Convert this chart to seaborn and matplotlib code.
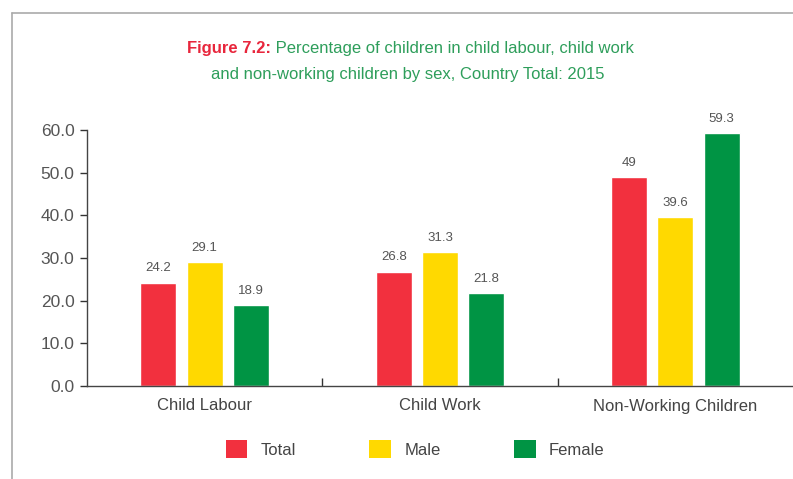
import numpy as np
import pandas as pd
import matplotlib
matplotlib.use("Agg")
import matplotlib.pyplot as plt
import seaborn as sns
from matplotlib.lines import Line2D
from matplotlib.patches import Patch

categories = ["Child Labour", "Child Work", "Non-Working Children"]
sexes = ["Total", "Male", "Female"]
total = [24.2, 26.8, 49]
male = [29.1, 31.3, 39.6]
female = [18.9, 21.8, 59.3]
value_labels = [["24.2", "26.8", "49"], ["29.1", "31.3", "39.6"], ["18.9", "21.8", "59.3"]]
yticks = [0, 10, 20, 30, 40, 50, 60]

colors = {"Total": "#F2303E", "Male": "#FFD900", "Female": "#009444"}

sns.set_style("white")
plt.rcParams["font.family"] = ["Liberation Sans", "DejaVu Sans"]

df = pd.DataFrame({
    "category": categories * 3,
    "sex": ["Total"] * 3 + ["Male"] * 3 + ["Female"] * 3,
    "value": total + male + female,
})

fig = plt.figure(figsize=(7.93, 4.79), dpi=100)
ax = fig.add_axes([87 / 793, 1 - 386 / 479, 1 - 87 / 793, (386 - 130) / 479])

sns.barplot(data=df, x="category", y="value", hue="sex", order=categories,
            hue_order=sexes, palette=colors, width=0.59, gap=0.22,
            saturation=1, legend=False, ax=ax)

for cont, labs in zip(ax.containers, value_labels):
    ax.bar_label(cont, labels=labs, padding=6, fontsize=9.5, color="#555555", clip_on=False)

ax.set_xlim(-0.5, 2.5)
ax.set_ylim(0, 60)
ax.set_yticks(yticks)
ax.set_yticklabels([f"{v:.1f}" for v in yticks], fontsize=12.5, color="#555555")
ax.tick_params(axis="y", direction="out", length=5, width=1, color="#333333", left=True, pad=4)
ax.set_xticks(range(3))
ax.set_xticklabels(categories, fontsize=12, color="#444444")
ax.tick_params(axis="x", length=0, pad=9)
ax.set_xticks([0.5, 1.5], minor=True)
ax.tick_params(axis="x", which="minor", direction="in", length=6, width=1, color="#333333", bottom=True)
ax.set_xlabel("")
ax.set_ylabel("")
for s in ["top", "right"]:
    ax.spines[s].set_visible(False)
for s in ["left", "bottom"]:
    ax.spines[s].set_color("#444444")
    ax.spines[s].set_linewidth(1)

# frame lines
fig.add_artist(Line2D([12 / 793, 12 / 793], [0, 1 - 13 / 479], color="#AAAAAA", lw=1.2))
fig.add_artist(Line2D([12 / 793, 1], [1 - 13 / 479, 1 - 13 / 479], color="#AAAAAA", lw=1.2))

# title
fig.canvas.draw()
r = fig.canvas.get_renderer()
green = "#2E9E5B"
y1 = 1 - 49 / 479
t1 = fig.text(0, y1, "Figure 7.2:", fontsize=12, fontweight="bold", color="#E8263C", va="center")
t2 = fig.text(0, y1, " Percentage of children in child labour, child work", fontsize=12,
              color=green, va="center")
w1 = t1.get_window_extent(r).width
w2 = t2.get_window_extent(r).width
x0 = (410 - (w1 + w2) / 2) / 793
t1.set_x(x0)
t2.set_x(x0 + w1 / 793)
fig.text(408 / 793, 1 - 75 / 479, "and non-working children by sex, Country Total: 2015",
         fontsize=12, color=green, ha="center", va="center")

handles = [Patch(facecolor=colors[s], edgecolor="none") for s in sexes]
leg = fig.legend(handles, sexes, loc="center", bbox_to_anchor=(415 / 793, 1 - 449 / 479),
                 ncol=3, frameon=False, fontsize=12, handlelength=1.3, handleheight=1.3,
                 columnspacing=4.4, handletextpad=0.8)
for t in leg.get_texts():
    t.set_color("#444444")

fig.savefig("out.png", dpi=100)
